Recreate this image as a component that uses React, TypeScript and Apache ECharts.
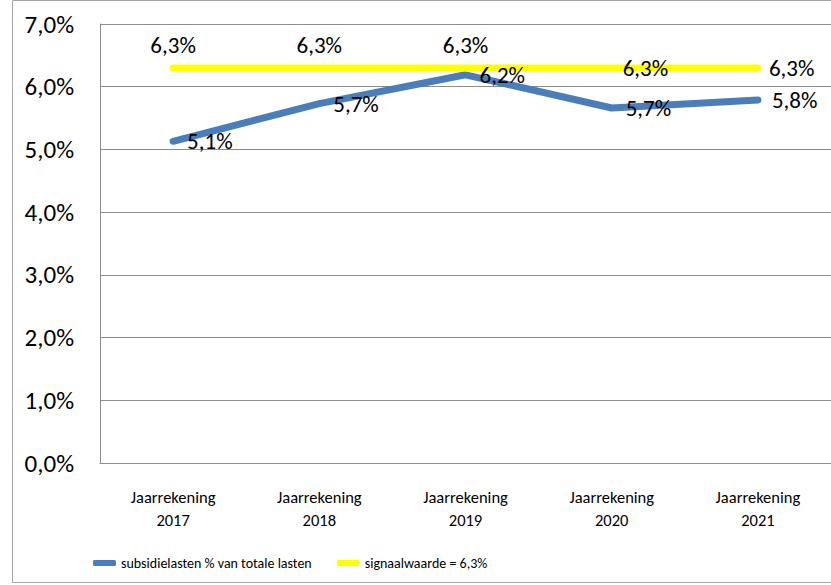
import React, { useEffect, useRef } from "react";
import * as echarts from "echarts";

const categories = ["Jaarrekening\n2017", "Jaarrekening\n2018", "Jaarrekening\n2019", "Jaarrekening\n2020", "Jaarrekening\n2021"];
const subsidieValues = [5.13, 5.73, 6.19, 5.66, 5.79];
const signaalValues = [6.3, 6.3, 6.3, 6.3, 6.3];
const signaalLabelPos = ["top", "top", "top", "right", "right"];
const seriesNames = ["subsidielasten % van totale lasten", "signaalwaarde = 6,3%"];

const FONT = "Carlito, Lato, sans-serif";
const fmt = (v: number) => v.toFixed(1).replace(".", ",") + "%";

export default function App() {
  const ref = useRef<HTMLDivElement>(null);
  useEffect(() => {
    if (!ref.current) return;
    const chart = echarts.init(ref.current, undefined, { renderer: "svg" });
    chart.setOption({
      animation: false,
      backgroundColor: "#ffffff",
      textStyle: { fontFamily: FONT, color: "#000" },
      graphic: [
        {
          type: "rect",
          shape: { x: 12.5, y: 0.5, width: 830, height: 582 },
          style: { fill: "none", stroke: "#a6a6a6", lineWidth: 1 },
          silent: true,
          z: -10,
        },
      ],
      grid: { left: 100, top: 24, right: -4, bottom: 122, containLabel: false },
      legend: {
        left: 88,
        top: 551,
        itemWidth: 23,
        itemHeight: 6,
        itemGap: 25,
        icon: "roundRect",
        textStyle: { fontFamily: FONT, fontSize: 14, color: "#000" },
        data: seriesNames,
      },
      xAxis: {
        type: "category",
        data: categories,
        boundaryGap: true,
        axisLine: { show: true, lineStyle: { color: "#8c8c8c", width: 1 } },
        axisTick: { show: false },
        axisLabel: { fontFamily: FONT, fontSize: 16.5, color: "#000", lineHeight: 23, margin: 22 },
      },
      yAxis: {
        type: "value",
        min: 0,
        max: 7,
        interval: 1,
        axisLine: { show: true, lineStyle: { color: "#8c8c8c", width: 1 } },
        axisTick: { show: false },
        splitLine: { show: true, lineStyle: { color: "#8c8c8c", width: 1 } },
        axisLabel: { fontFamily: FONT, fontSize: 25, color: "#000", margin: 26, formatter: (v: number) => fmt(v) },
      },
      series: [
        {
          name: seriesNames[0],
          type: "line",
          data: subsidieValues,
          symbol: "circle",
          symbolSize: 2,
          showSymbol: true,
          color: "#4a7ebb",
          itemStyle: { color: "#4a7ebb" },
          lineStyle: { color: "#4a7ebb", width: 7, cap: "round", join: "round" },
          label: {
            show: true,
            position: "right",
            distance: 13,
            fontFamily: FONT,
            fontSize: 23,
            color: "#000",
            formatter: (p: any) => fmt(p.value),
          },
        },
        {
          name: seriesNames[1],
          type: "line",
          data: signaalValues.map((v, i) => ({ value: v, label: { position: signaalLabelPos[i] } })),
          symbol: "circle",
          symbolSize: 2,
          showSymbol: true,
          color: "#ffff00",
          itemStyle: { color: "#ffff00" },
          lineStyle: { color: "#ffff00", width: 7, cap: "round", join: "round" },
          label: {
            show: true,
            distance: 10,
            fontFamily: FONT,
            fontSize: 23,
            color: "#000",
            formatter: (p: any) => fmt(p.value),
          },
        },
      ],
    });
    return () => chart.dispose();
  }, []);
  return <div ref={ref} style={{ position: "absolute", left: 0, top: 0, width: 831, height: 585 }} />;
}
